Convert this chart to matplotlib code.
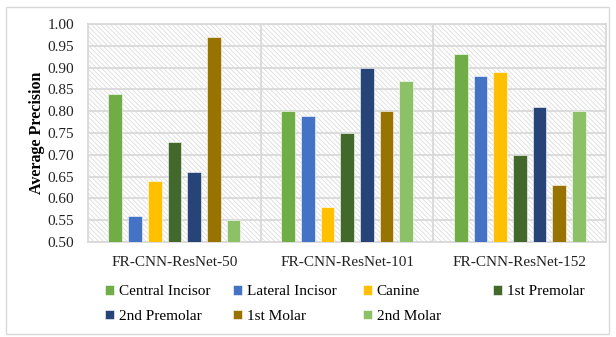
import matplotlib.pyplot as plt
import numpy as np
from matplotlib.patches import Rectangle
from matplotlib.font_manager import FontProperties

plt.rcParams['font.family'] = ['Liberation Serif', 'DejaVu Serif']
plt.rcParams['hatch.linewidth'] = 0.6

models = ["FR-CNN-ResNet-50", "FR-CNN-ResNet-101", "FR-CNN-ResNet-152"]
teeth = ["Central Incisor", "Lateral Incisor", "Canine", "1st Premolar",
         "2nd Premolar", "1st Molar", "2nd Molar"]
central_incisor = [0.84, 0.80, 0.93]
lateral_incisor = [0.56, 0.79, 0.88]
canine = [0.64, 0.58, 0.89]
premolar_1 = [0.73, 0.75, 0.70]
premolar_2 = [0.66, 0.90, 0.81]
molar_1 = [0.97, 0.80, 0.63]
molar_2 = [0.55, 0.87, 0.80]
series = [central_incisor, lateral_incisor, canine, premolar_1,
          premolar_2, molar_1, molar_2]
colors = ["#70ad47", "#4472c4", "#ffc000", "#43682b", "#264478", "#997300", "#8cc168"]

fig = plt.figure(figsize=(6.16, 3.37), dpi=100)
ax = fig.add_axes([0.143, 0.282, 0.841, 0.647])

# hatched background
ax.add_patch(Rectangle((0, 0), 1, 1, transform=ax.transAxes, facecolor='white',
                       edgecolor='#dcdcdc', linewidth=0, hatch='\\\\\\\\\\\\\\', zorder=0))

x = np.arange(len(models))
pitch = 0.114
width = 0.08
handles = []
for i, (vals, c, name) in enumerate(zip(series, colors, teeth)):
    offs = (i - 3) * pitch
    h = ax.bar(x + offs, np.array(vals) - 0.5, width, bottom=0.5, color=c,
               edgecolor='white', linewidth=0.4, label=name, zorder=3)
    handles.append(h)

ax.set_xlim(-0.5, 2.5)
ax.set_ylim(0.5, 1.0)
yt = np.arange(0.5, 1.001, 0.05)
ax.set_yticks(yt)
ax.set_yticklabels([f"{v:.2f}" for v in yt])
ax.set_xticks(x)
ax.set_xticklabels(models)
ax.tick_params(axis='both', length=0, labelsize=11, colors='#222222')
ax.tick_params(axis='y', pad=10)
ax.tick_params(axis='x', pad=10)
ax.grid(axis='y', color='#d9d9d9', linewidth=1.3, zorder=1)
for b in [0.5, 1.5]:
    ax.axvline(b, color='#d9d9d9', linewidth=1.3, zorder=1)
for s in ax.spines.values():
    s.set_color('#d9d9d9')
    s.set_linewidth(1.3)
ax.set_axisbelow(True)
ax.set_ylabel("Average Precision", fontsize=11.5, fontweight='bold', labelpad=2)

# legend: 4 columns, filled row by row
lp = FontProperties(family=['Liberation Serif', 'DejaVu Serif'], size=11)
col_x = [102, 230, 360, 490]
for col in range(4):
    idx = [k for k in range(len(teeth)) if k % 4 == col]
    fig.legend([handles[k] for k in idx], [teeth[k] for k in idx],
               loc='upper left', bbox_to_anchor=(col_x[col] / 616, 1 - 282 / 337),
               frameon=False, prop=lp, handlelength=0.6, handleheight=0.6,
               handletextpad=0.3, labelspacing=0.75, borderaxespad=0, borderpad=0.2)

fig.patches.append(Rectangle((0.009, 0.01), 0.98, 0.97, transform=fig.transFigure,
                             fill=False, edgecolor='#d9d9d9', linewidth=1))

fig.savefig("out.png", dpi=100)
